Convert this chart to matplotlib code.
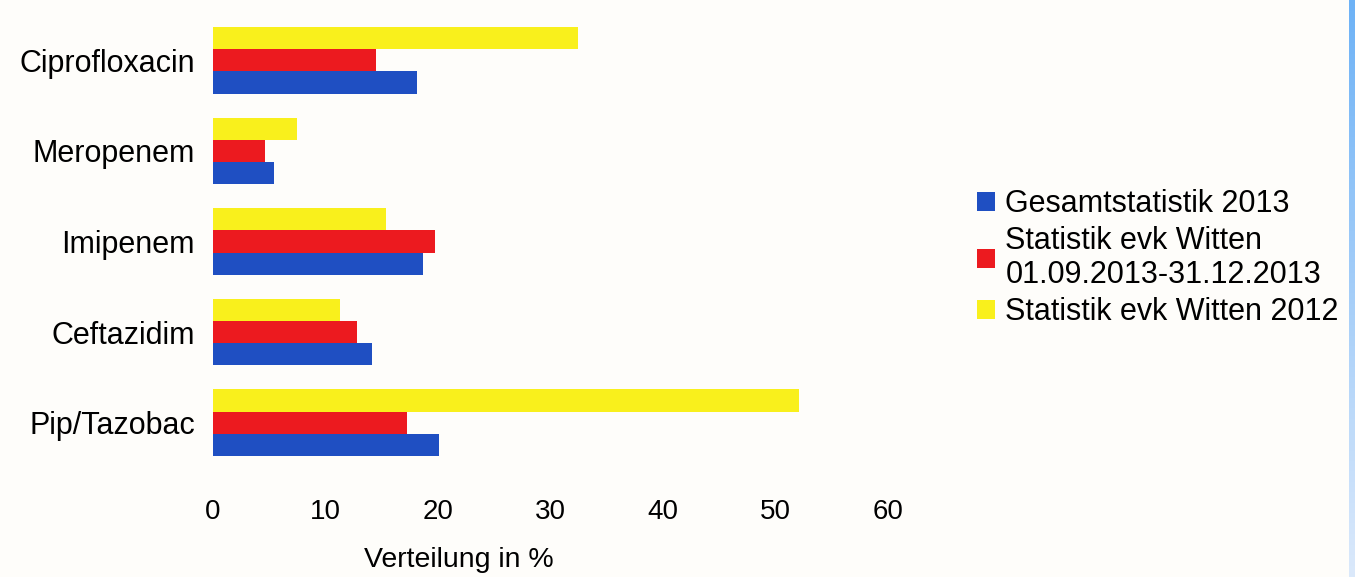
import numpy as np
import matplotlib
matplotlib.use("Agg")
import matplotlib.pyplot as plt
import matplotlib.transforms as mtransforms
from matplotlib.colors import LinearSegmentedColormap

plt.rcParams['font.family'] = ['Liberation Sans', 'DejaVu Sans']

categories = ["Ciprofloxacin", "Meropenem", "Imipenem", "Ceftazidim", "Pip/Tazobac"]
series_names = ["Gesamtstatistik 2013",
                "Statistik evk Witten\n01.09.2013-31.12.2013",
                "Statistik evk Witten 2012"]
gesamt_2013 = [18.1, 5.4, 18.7, 14.1, 20.1]
witten_2013 = [14.5, 4.6, 19.7, 12.8, 17.2]
witten_2012 = [32.4, 7.5, 15.4, 11.3, 52.1]
x_ticks = [0, 10, 20, 30, 40, 50, 60]

colors = ["#1f4fc2", "#ec1a1f", "#f9f01c"]

W, H = 1355, 577
fig = plt.figure(figsize=(W / 100, H / 100), dpi=100)
fig.patch.set_facecolor("#fefdfa")

ax = fig.add_axes([213 / W, 1 - 468 / H, (888 - 213) / W, (468 - 15) / H])
ax.set_facecolor("#fefdfa")

y = np.arange(len(categories))
h = 0.245
bars_b = ax.barh(y + h, gesamt_2013, height=h, color=colors[0], label=series_names[0])
bars_r = ax.barh(y, witten_2013, height=h, color=colors[1], label=series_names[1])
bars_y = ax.barh(y - h, witten_2012, height=h, color=colors[2], label=series_names[2])

ax.set_xlim(0, 60)
ax.set_ylim(4.5, -0.5)
ax.set_yticks(y)
ax.set_yticklabels(categories, fontsize=22)
shift = mtransforms.ScaledTranslation(0, 3 / 100, fig.dpi_scale_trans)
for lbl in ax.get_yticklabels():
    lbl.set_transform(lbl.get_transform() + shift)
ax.set_xticks(x_ticks)
ax.set_xticklabels([str(t) for t in x_ticks], fontsize=20)
ax.tick_params(axis='both', length=0)
ax.tick_params(axis='y', pad=13)
ax.tick_params(axis='x', pad=22)
for s in ax.spines.values():
    s.set_visible(False)

fig.text(459 / W, 1 - 560 / H, "Verteilung in %", fontsize=20.5, ha='center', va='center')

ax.legend(handles=[bars_b, bars_r, bars_y], loc='center left',
          bbox_to_anchor=(977 / W, 1 - 258 / H), bbox_transform=fig.transFigure,
          frameon=False, fontsize=22, handlelength=0.58, handleheight=0.58,
          handletextpad=0.35, labelspacing=0.22, borderpad=0, borderaxespad=0)

# blue scan edge on the right
strip = fig.add_axes([1349 / W, 0, 6 / W, 1])
grad = np.linspace(0, 1, 256).reshape(-1, 1)
cmap = LinearSegmentedColormap.from_list("edge", ["#6db2f6", "#dbe9fb"])
strip.imshow(grad, aspect='auto', cmap=cmap)
strip.axis('off')

fig.savefig("out.png", dpi=100, facecolor=fig.get_facecolor())
